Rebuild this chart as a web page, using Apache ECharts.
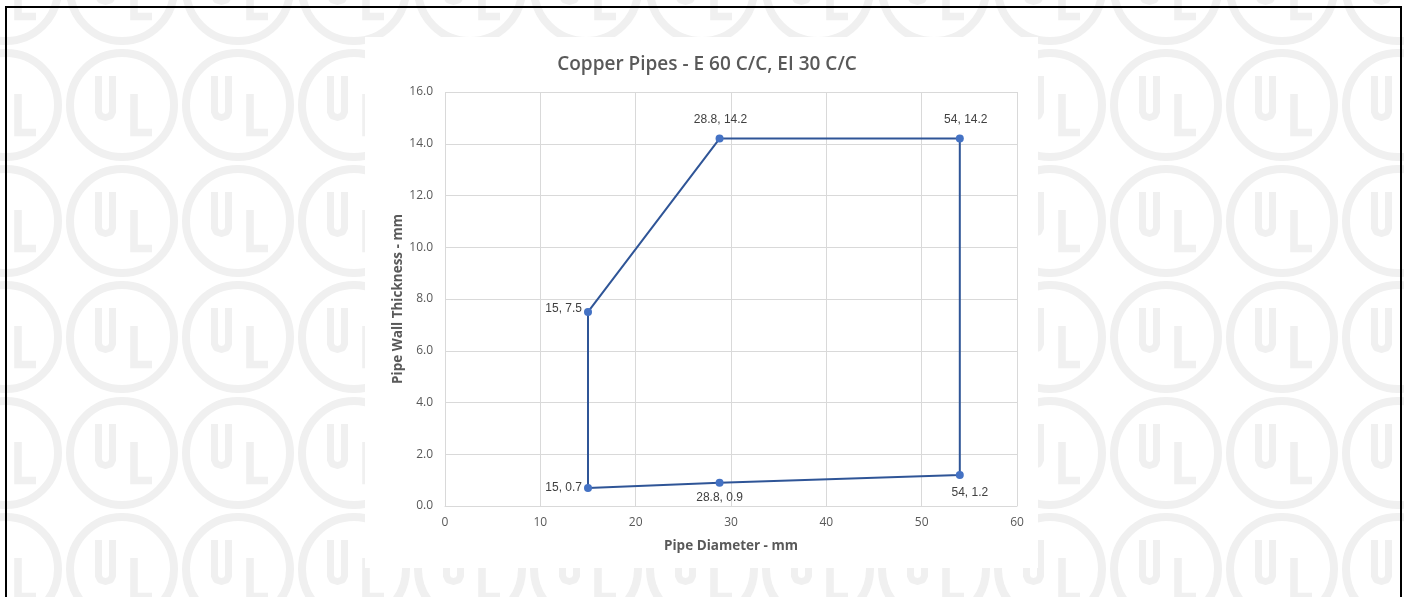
<!DOCTYPE html>
<html>
<head>
<meta charset="utf-8">
<script src="https://cdn.jsdelivr.net/npm/echarts@6/dist/echarts.min.js"></script>
<style>html,body{margin:0;padding:0;background:#fff}#c{width:1404px;height:597px}</style>
</head>
<body>
<div id="c"></div>
<script>
// ---- data ----
const chartTitle = 'Copper Pipes - E 60 C/C, EI 30 C/C';
const xAxisTitle = 'Pipe Diameter - mm';
const yAxisTitle = 'Pipe Wall Thickness - mm';
const pipeDiameter = [15, 28.8, 54, 54, 28.8, 15];
const wallThickness = [0.7, 0.9, 1.2, 14.2, 14.2, 7.5];
const xRange = [0, 60, 10];
const yRange = [0, 16, 2];

// ---- label placement (style) ----
const labelStyle = [
  {position: 'left', distance: 2, offset: [0, 0]},
  {position: 'bottom', distance: 5, offset: [0, 0]},
  {position: 'bottom', distance: 8, offset: [10, 0]},
  {position: 'top', distance: 9, offset: [6, 0]},
  {position: 'top', distance: 9, offset: [1, 0]},
  {position: 'left', distance: 2, offset: [0, -3]}
];

const pts = pipeDiameter.map((x, i) => ({
  value: [x, wallThickness[i]],
  label: Object.assign({show: true}, labelStyle[i])
}));
pts.push({value: [pipeDiameter[0], wallThickness[0]], label: {show: false}, symbol: 'none'});

// ---- watermark decoration ----
const wm = [];
const wmColor = '#f0f0f0';
const uShape = [[-23.5,-29],[-23.5,7],[-21.5,11],[-16.5,12.5],[-11.5,11],[-9.5,7],[-9.5,-29]];
const lShape = [[12,-11],[12,27.5],[30,27.5]];
for (let r = -1; r <= 5; r++) {
  for (let c = 0; c <= 12; c++) {
    const cx = 6 + 116 * c, cy = 105 + 116 * r;
    wm.push({type: 'circle', z: -20, silent: true, shape: {cx: cx, cy: cy, r: 52},
      style: {fill: 'none', stroke: wmColor, lineWidth: 8}});
    wm.push({type: 'polyline', z: -20, silent: true,
      shape: {points: uShape.map(p => [cx + p[0], cy + p[1]])},
      style: {fill: 'none', stroke: wmColor, lineWidth: 7, lineJoin: 'round'}});
    wm.push({type: 'polyline', z: -20, silent: true,
      shape: {points: lShape.map(p => [cx + p[0], cy + p[1]])},
      style: {fill: 'none', stroke: wmColor, lineWidth: 7.5, lineJoin: 'miter'}});
  }
}
wm.push({type: 'rect', z: -10, silent: true, shape: {x: 365, y: 37, width: 673, height: 531},
  style: {fill: '#ffffff', stroke: 'none'}});
wm.push({type: 'rect', z: -5, silent: true, shape: {x: 6, y: 7, width: 1395, height: 700},
  style: {fill: 'none', stroke: '#000', lineWidth: 2}});

const chart = echarts.init(document.getElementById('c'), null, {renderer: 'canvas'});
chart.setOption({
  animation: false,
  backgroundColor: '#ffffff',
  graphic: {elements: wm},
  title: {
    text: chartTitle, left: 702, top: 50, textAlign: 'center',
    textStyle: {fontFamily: 'Open Sans', fontWeight: 600, fontSize: 19, color: '#595959'}
  },
  grid: {left: 445, right: 387, top: 92, bottom: 91},
  xAxis: {
    type: 'value', min: xRange[0], max: xRange[1], interval: xRange[2],
    name: xAxisTitle, nameLocation: 'middle', nameGap: 33,
    nameTextStyle: {fontFamily: 'Open Sans', fontWeight: 'bold', fontSize: 13.5, color: '#595959'},
    axisLine: {show: true, lineStyle: {color: '#d9d9d9', width: 1}},
    axisTick: {show: false},
    axisLabel: {margin: 11, fontFamily: 'Open Sans', fontSize: 12, color: '#595959'},
    splitLine: {show: true, lineStyle: {color: '#d9d9d9', width: 1}}
  },
  yAxis: {
    type: 'value', min: yRange[0], max: yRange[1], interval: yRange[2],
    name: yAxisTitle, nameLocation: 'middle', nameGap: 40, nameRotate: 90,
    nameTextStyle: {fontFamily: 'Open Sans', fontWeight: 'bold', fontSize: 13.5, color: '#595959'},
    axisLine: {show: false},
    axisTick: {show: false},
    axisLabel: {margin: 12, fontFamily: 'Open Sans', fontSize: 12, color: '#595959', formatter: v => v.toFixed(1)},
    splitLine: {show: true, lineStyle: {color: '#d9d9d9', width: 1}}
  },
  series: [{
    type: 'line',
    data: pts,
    symbol: 'circle', symbolSize: 8,
    lineStyle: {color: '#2F5597', width: 2},
    itemStyle: {color: '#4472C4'},
    label: {
      show: true,
      formatter: p => p.value[0] + ', ' + p.value[1],
      fontFamily: 'Liberation Sans', fontSize: 12, color: '#404040'
    },
    z: 3
  }]
});
</script>
</body>
</html>
